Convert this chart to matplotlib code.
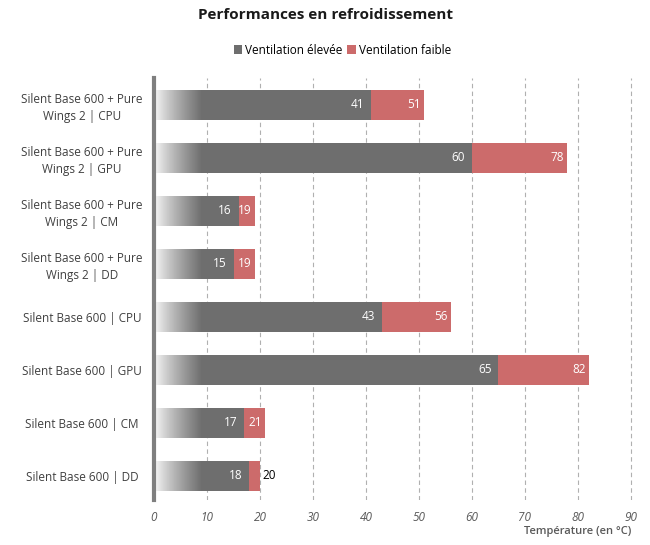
import numpy as np
import matplotlib.pyplot as plt

# categories from top to bottom
labels = ['Silent Base 600 + Pure\nWings 2 | CPU',
          'Silent Base 600 + Pure\nWings 2 | GPU',
          'Silent Base 600 + Pure\nWings 2 | CM',
          'Silent Base 600 + Pure\nWings 2 | DD',
          'Silent Base 600 | CPU',
          'Silent Base 600 | GPU',
          'Silent Base 600 | CM',
          'Silent Base 600 | DD']
high = [41, 60, 16, 15, 43, 65, 17, 18]   # Ventilation élevée
low = [51, 78, 19, 19, 56, 82, 21, 20]    # Ventilation faible
xticks = [0, 10, 20, 30, 40, 50, 60, 70, 80, 90]

gray = '#6e6e6e'
red = '#cc6b6b'
plt.rcParams['font.family'] = ['Open Sans', 'DejaVu Sans']

fig = plt.figure(figsize=(6.5, 5.45), dpi=100)
ax = fig.add_axes([0.237, 0.083, 0.75, 0.774])

y = np.arange(len(labels))
h = 0.57
ax.barh(y, low, height=h, color=red, zorder=2, label='Ventilation faible')
ax.barh(y, high, height=h, color=gray, zorder=3, label='Ventilation élevée')

# white fade on the left of the bars
grad = np.zeros((2, 256, 4))
grad[..., :3] = 1.0
grad[..., 3] = np.clip(1 - np.linspace(0, 1, 256) ** 0.8, 0, 1)
ax.imshow(grad, extent=[0, 9, 7.45, -0.51], aspect='auto', zorder=4,
          interpolation='bilinear')

for i in range(len(labels)):
    ax.text(high[i] - 1.3, i, str(high[i]), color='white', ha='right',
            va='center', fontsize=8.5, zorder=5)
    if low[i] - high[i] > 2:
        ax.text(low[i] - 0.6, i, str(low[i]), color='white', ha='right',
                va='center', fontsize=8.5, zorder=5)
    else:
        ax.text(low[i] + 0.4, i, str(low[i]), color='black', ha='left',
                va='center', fontsize=8.5, zorder=5)

ax.set_xlim(0, 92)
ax.set_ylim(7.45, -0.51)
ax.set_xticks(xticks)
ax.set_xticklabels([str(t) for t in xticks], style='italic', color='#595959',
                   fontsize=8.5)
ax.set_yticks(y)
ax.set_yticklabels(labels, fontsize=8.5, color='#404040', ha='center',
                   linespacing=1.35)
ax.tick_params(axis='y', length=0, pad=52)
ax.tick_params(axis='x', length=0, pad=8)
ax.xaxis.grid(True, color='#b0b0b0', linestyle=(0, (4, 3)), linewidth=0.8)
ax.set_axisbelow(True)
for s in ['top', 'right', 'bottom']:
    ax.spines[s].set_visible(False)
ax.spines['left'].set_color('#7f7f7f')
ax.spines['left'].set_linewidth(3)
ax.spines['left'].set_zorder(6)

fig.text(0.972, 0.024, 'Température (en °C)', ha='right', va='center',
         fontsize=8, color='#595959', fontweight='semibold')
fig.suptitle('Performances en refroidissement', y=0.985, fontsize=11,
             fontweight='bold', color='#1a1a1a')

handles, lbls = ax.get_legend_handles_labels()
fig.legend(handles[::-1], lbls[::-1], loc='center', bbox_to_anchor=(0.527, 0.908),
           ncol=2, frameon=False, fontsize=8.5, handlelength=0.7,
           handleheight=0.7, columnspacing=0.4, handletextpad=0.3)

fig.savefig('out.png', dpi=100)
